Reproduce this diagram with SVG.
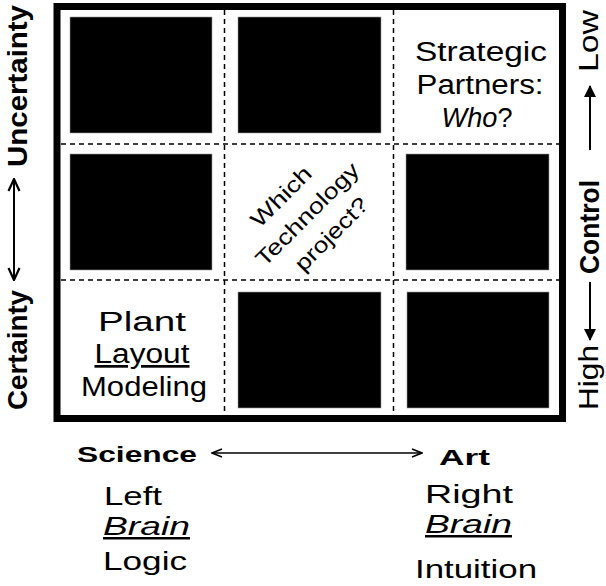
<svg xmlns="http://www.w3.org/2000/svg" width="606" height="586" viewBox="0 0 606 586">
<defs>
<style>
.t{font-family:"Liberation Sans",Arial,sans-serif;fill:#000}
.b{font-weight:bold}
.sq{fill:#000;stroke:#999;stroke-width:0.6}
.dash{stroke:#000;stroke-width:1.5;stroke-dasharray:5,4;fill:none}
.ax{stroke:#000;stroke-width:1.5;fill:none}
</style>
<marker id="vOpen" viewBox="0 0 12 10" refX="11" refY="5" markerWidth="12" markerHeight="10" markerUnits="userSpaceOnUse" orient="auto-start-reverse">
<path d="M1,1 L11,5 L1,9" fill="none" stroke="#000" stroke-width="1.5"/>
</marker>
<marker id="vBold" viewBox="0 0 14 14" refX="13" refY="7" markerWidth="14" markerHeight="14" markerUnits="userSpaceOnUse" orient="auto-start-reverse">
<path d="M1,1.5 L13,7 L1,12.5" fill="none" stroke="#000" stroke-width="2.2"/>
</marker>
<marker id="tri" viewBox="0 0 12 12" refX="11" refY="6" markerWidth="12" markerHeight="12" markerUnits="userSpaceOnUse" orient="auto">
<path d="M0,0 L12,6 L0,12 Z" fill="#000"/>
</marker>
</defs>
<rect width="606" height="586" fill="#fff"/>

<g id="grid">
<rect x="57" y="6.5" width="505.5" height="412" fill="none" stroke="#000" stroke-width="7"/>
<line class="dash" x1="224.5" y1="10" x2="224.5" y2="415"/>
<line class="dash" x1="393.5" y1="10" x2="393.5" y2="415"/>
<line class="dash" x1="61" y1="144" x2="559" y2="144"/>
<line class="dash" x1="61" y1="280" x2="559" y2="280"/>
</g>

<g id="cell-1-1"><rect class="sq" x="70" y="17" width="142" height="116"/></g>
<g id="cell-1-2"><rect class="sq" x="238" y="17" width="143" height="116"/></g>
<g id="cell-1-3">
<text class="t" x="481" y="61" font-size="27" text-anchor="middle" textLength="132" lengthAdjust="spacingAndGlyphs">Strategic</text>
<text class="t" x="480" y="94" font-size="27" text-anchor="middle" textLength="127" lengthAdjust="spacingAndGlyphs">Partners:</text>
<text class="t" x="477" y="127" font-size="27" text-anchor="middle" textLength="71" lengthAdjust="spacingAndGlyphs"><tspan font-style="italic">Who</tspan>?</text>
</g>
<g id="cell-2-1"><rect class="sq" x="70" y="154" width="142" height="116"/></g>
<g id="cell-2-2">
<g transform="translate(307,214) rotate(-45)">
<text class="t" x="-6" y="-23" font-size="22" text-anchor="middle" textLength="76" lengthAdjust="spacingAndGlyphs">Which</text>
<text class="t" x="0" y="8" font-size="22" text-anchor="middle" textLength="136" lengthAdjust="spacingAndGlyphs">Technology</text>
<text class="t" x="3" y="39" font-size="22" text-anchor="middle" textLength="94" lengthAdjust="spacingAndGlyphs">project?</text>
</g>
</g>
<g id="cell-2-3"><rect class="sq" x="406" y="154" width="143" height="116"/></g>
<g id="cell-3-1">
<text class="t" x="142" y="331" font-size="27" text-anchor="middle" textLength="88" lengthAdjust="spacingAndGlyphs">Plant</text>
<text class="t" x="142" y="363" font-size="27" text-anchor="middle" textLength="95" lengthAdjust="spacingAndGlyphs" text-decoration="underline">Layout</text>
<text class="t" x="144" y="396" font-size="27" text-anchor="middle" textLength="126" lengthAdjust="spacingAndGlyphs">Modeling</text>
</g>
<g id="cell-3-2"><rect class="sq" x="238" y="292" width="143" height="116"/></g>
<g id="cell-3-3"><rect class="sq" x="407" y="292" width="142" height="116"/></g>

<g id="left-axis">
<text class="t b" transform="translate(27,167) rotate(-90)" font-size="28" textLength="162" lengthAdjust="spacingAndGlyphs">Uncertainty</text>
<text class="t b" transform="translate(27,410) rotate(-90)" font-size="28" textLength="120" lengthAdjust="spacingAndGlyphs">Certainty</text>
</g>
<g id="right-axis">
<text class="t" transform="translate(598,72) rotate(-90)" font-size="27" textLength="62" lengthAdjust="spacingAndGlyphs">Low</text>
<text class="t b" transform="translate(599,274) rotate(-90)" font-size="28" textLength="94" lengthAdjust="spacingAndGlyphs">Control</text>
<text class="t" transform="translate(598,410) rotate(-90)" font-size="27" textLength="65" lengthAdjust="spacingAndGlyphs">High</text>
</g>
<g id="bottom-axis">
<text class="t b" x="77" y="462" font-size="22" textLength="120" lengthAdjust="spacingAndGlyphs">Science</text>
<text class="t b" x="439" y="465" font-size="22" textLength="51" lengthAdjust="spacingAndGlyphs">Art</text>
<text class="t" x="104" y="505" font-size="25" textLength="58" lengthAdjust="spacingAndGlyphs">Left</text>
<text class="t" x="103" y="535" font-size="25" font-style="italic" textLength="87" lengthAdjust="spacingAndGlyphs" text-decoration="underline">Brain</text>
<text class="t" x="103" y="570" font-size="25" textLength="84" lengthAdjust="spacingAndGlyphs">Logic</text>
<text class="t" x="425" y="503" font-size="25" textLength="88" lengthAdjust="spacingAndGlyphs">Right</text>
<text class="t" x="425" y="533" font-size="25" font-style="italic" textLength="87" lengthAdjust="spacingAndGlyphs" text-decoration="underline">Brain</text>
<text class="t" x="415" y="578" font-size="25" textLength="122" lengthAdjust="spacingAndGlyphs">Intuition</text>
</g>

<g id="connectors">
<line class="ax" x1="212" y1="453" x2="422" y2="453" marker-start="url(#vOpen)" marker-end="url(#vOpen)"/>
<line x1="14" y1="179" x2="14" y2="280" stroke="#000" stroke-width="2" marker-start="url(#vBold)" marker-end="url(#vBold)"/>
<line x1="590" y1="150" x2="590" y2="86" stroke="#000" stroke-width="2" marker-end="url(#tri)"/>
<line x1="590" y1="282" x2="590" y2="340" stroke="#000" stroke-width="2" marker-end="url(#tri)"/>
</g>
</svg>
